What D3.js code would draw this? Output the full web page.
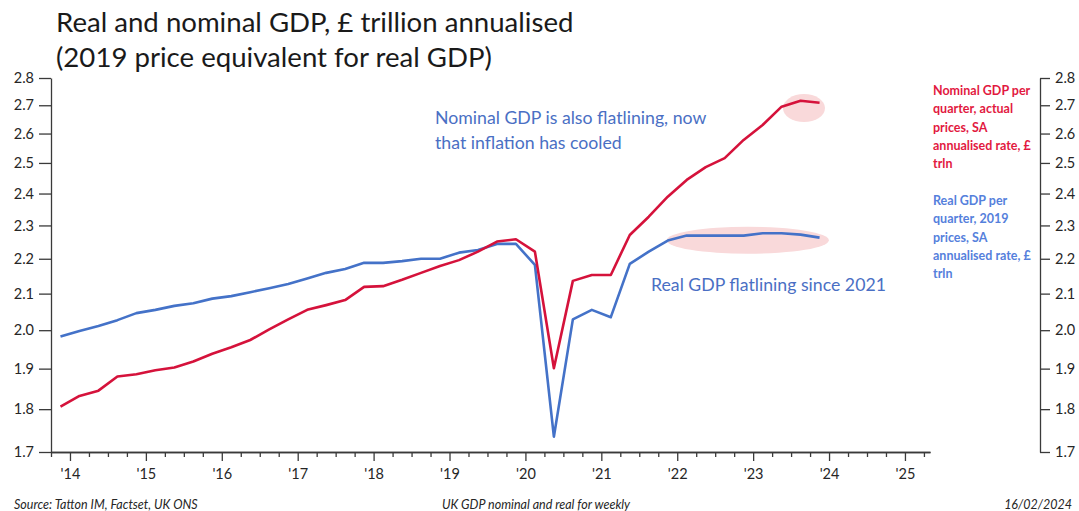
<!DOCTYPE html>
<html lang="en">

<head>
  <meta charset="UTF-8">
  <script src="https://cdn.jsdelivr.net/npm/d3@7"></script>
  <title>Real and nominal GDP</title>
  <style>
    body { margin: 0; background: #fff; }
    svg text { font-family: Lato, "Open Sans", sans-serif; }
  </style>
</head>

<body>
  <script>
  // quarterly data, Q4 2013 - Q4 2023, £ trillion annualised
  const quarters = [
    "2013Q4",
    "2014Q1", "2014Q2", "2014Q3", "2014Q4",
    "2015Q1", "2015Q2", "2015Q3", "2015Q4",
    "2016Q1", "2016Q2", "2016Q3", "2016Q4",
    "2017Q1", "2017Q2", "2017Q3", "2017Q4",
    "2018Q1", "2018Q2", "2018Q3", "2018Q4",
    "2019Q1", "2019Q2", "2019Q3", "2019Q4",
    "2020Q1", "2020Q2", "2020Q3", "2020Q4",
    "2021Q1", "2021Q2", "2021Q3", "2021Q4",
    "2022Q1", "2022Q2", "2022Q3", "2022Q4",
    "2023Q1", "2023Q2", "2023Q3", "2023Q4"
  ];
  const nominalGdp = [
    1.806,
    1.832, 1.845, 1.880, 1.886,
    1.896, 1.903, 1.918, 1.938,
    1.955, 1.974, 2.002, 2.029,
    2.055, 2.068, 2.082, 2.119,
    2.121, 2.139, 2.159, 2.179,
    2.196, 2.221, 2.251, 2.258,
    2.221, 1.901, 2.136, 2.153,
    2.153, 2.271, 2.327, 2.390,
    2.444, 2.486, 2.516, 2.578,
    2.630, 2.695, 2.716, 2.709
  ];
  const realGdp = [
    1.983,
    1.998, 2.011, 2.027, 2.046,
    2.055, 2.066, 2.073, 2.086,
    2.093, 2.104, 2.115, 2.127,
    2.143, 2.159, 2.170, 2.188,
    2.188, 2.193, 2.200, 2.200,
    2.218, 2.226, 2.244, 2.244,
    2.182, 1.735, 2.029, 2.055,
    2.035, 2.185, 2.221, 2.254,
    2.269, 2.269, 2.269, 2.269,
    2.276, 2.276, 2.272, 2.263
  ];
  const yTicks = [1.7, 1.8, 1.9, 2.0, 2.1, 2.2, 2.3, 2.4, 2.5, 2.6, 2.7, 2.8];
  const yearTicks = [2014, 2015, 2016, 2017, 2018, 2019, 2020, 2021, 2022, 2023, 2024, 2025];

  const w = 1079;
  const h = 511;
  const red = "#d5123b";
  const blue = "#4472c8";
  const axisCol = "#3a3a3a";
  const textCol = "#262626";

  // quarter -> decimal year (mid quarter)
  function qTime(s) {
    const yr = +s.slice(0, 4);
    const q = +s.slice(5);
    return yr + (q - 1) * 0.25 + 0.125;
  }

  const svg = d3.select("body")
    .append("svg")
    .attr("width", w)
    .attr("height", h);

  const x = d3.scaleLinear().domain([2013.75, 2025.33]).range([51, 930]);
  const y = d3.scaleLog().domain([1.7, 2.8]).range([452, 78]);

  // title
  const title = svg.append("g").attr("fill", "#1a1a1a").style("font-size", "27.6px");
  title.append("text").attr("x", 56).attr("y", 32).text("Real and nominal GDP, £ trillion annualised");
  title.append("text").attr("x", 56).attr("y", 67).text("(2019 price equivalent for real GDP)");

  // highlight ellipses
  svg.append("ellipse")
    .attr("cx", x(2023.67)).attr("cy", y(2.69))
    .attr("rx", 21).attr("ry", 14)
    .attr("fill", "#f9d9da");
  svg.append("ellipse")
    .attr("cx", x(2022.93)).attr("cy", y(2.255))
    .attr("rx", 81).attr("ry", 13.5)
    .attr("fill", "#f9d9da");

  // axes
  function styleAxis(g) {
    g.selectAll("path, line").attr("stroke", axisCol).attr("stroke-width", 1.3);
    g.selectAll("text").attr("fill", textCol).style("font-size", "14.5px").style("font-family", "Lato, sans-serif");
  }

  svg.append("g")
    .attr("transform", "translate(51,0)")
    .call(d3.axisLeft(y).tickValues(yTicks).tickFormat(d3.format(".1f")).tickSize(12).tickSizeOuter(0).tickPadding(5))
    .call(styleAxis);

  svg.append("g")
    .attr("transform", "translate(1040,0)")
    .call(d3.axisRight(y).tickValues(yTicks).tickFormat(d3.format(".1f")).tickSize(10).tickSizeOuter(0).tickPadding(5))
    .call(styleAxis);

  const quarterTicks = d3.range(2013.75, 2025.3, 0.25).filter(function (d) { return Math.abs(d - Math.round(d)) > 0.01; });

  svg.append("g")
    .attr("transform", "translate(0,452)")
    .call(d3.axisBottom(x).tickValues(quarterTicks).tickFormat("").tickSize(5).tickSizeOuter(0))
    .call(styleAxis);

  svg.append("g")
    .attr("transform", "translate(0,452)")
    .call(d3.axisBottom(x).tickValues(yearTicks).tickFormat(function (d) { return "'" + String(d).slice(2); }).tickSize(9).tickSizeOuter(0).tickPadding(8))
    .call(styleAxis);

  // lines
  const line = d3.line()
    .x(function (d) { return x(d.t); })
    .y(function (d) { return y(d.v); });

  const nomData = quarters.map(function (q, i) { return { t: qTime(q), v: nominalGdp[i] }; });
  const realData = quarters.map(function (q, i) { return { t: qTime(q), v: realGdp[i] }; });

  svg.append("path").datum(realData)
    .attr("d", line).attr("fill", "none")
    .attr("stroke", blue).attr("stroke-width", 2.6).attr("stroke-linejoin", "round");
  svg.append("path").datum(nomData)
    .attr("d", line).attr("fill", "none")
    .attr("stroke", red).attr("stroke-width", 2.6).attr("stroke-linejoin", "round");

  // annotations
  const ann = svg.append("g").attr("fill", "#4a6fc4").style("font-size", "17.7px");
  ann.append("text").attr("x", 435).attr("y", 124).text("Nominal GDP is also flatlining, now");
  ann.append("text").attr("x", 435).attr("y", 149).text("that inflation has cooled");
  ann.append("text").attr("x", 651).attr("y", 291).text("Real GDP flatlining since 2021");

  // series labels on the right
  const nomLab = ["Nominal GDP per", "quarter, actual", "prices, SA", "annualised rate, £", "trln"];
  const realLab = ["Real GDP per", "quarter, 2019", "prices, SA", "annualised rate, £", "trln"];
  svg.append("g").attr("fill", "#e2193f").style("font-size", "12.5px").style("font-weight", "bold")
    .selectAll("text").data(nomLab).enter().append("text")
    .attr("x", 933).attr("y", function (d, i) { return 95 + i * 18.3; })
    .text(function (d) { return d; });
  svg.append("g").attr("fill", "#5580dc").style("font-size", "12.5px").style("font-weight", "bold")
    .selectAll("text").data(realLab).enter().append("text")
    .attr("x", 933).attr("y", function (d, i) { return 205 + i * 18.3; })
    .text(function (d) { return d; });

  // footer
  const foot = svg.append("g").attr("fill", "#262626").style("font-size", "12.5px").style("font-style", "italic");
  foot.append("text").attr("x", 14).attr("y", 509).text("Source: Tatton IM, Factset, UK ONS");
  foot.append("text").attr("x", 536).attr("y", 509).attr("text-anchor", "middle").text("UK GDP nominal and real for weekly");
  foot.append("text").attr("x", 1072).attr("y", 509).attr("text-anchor", "end").text("16/02/2024");
  </script>
</body>
</html>
